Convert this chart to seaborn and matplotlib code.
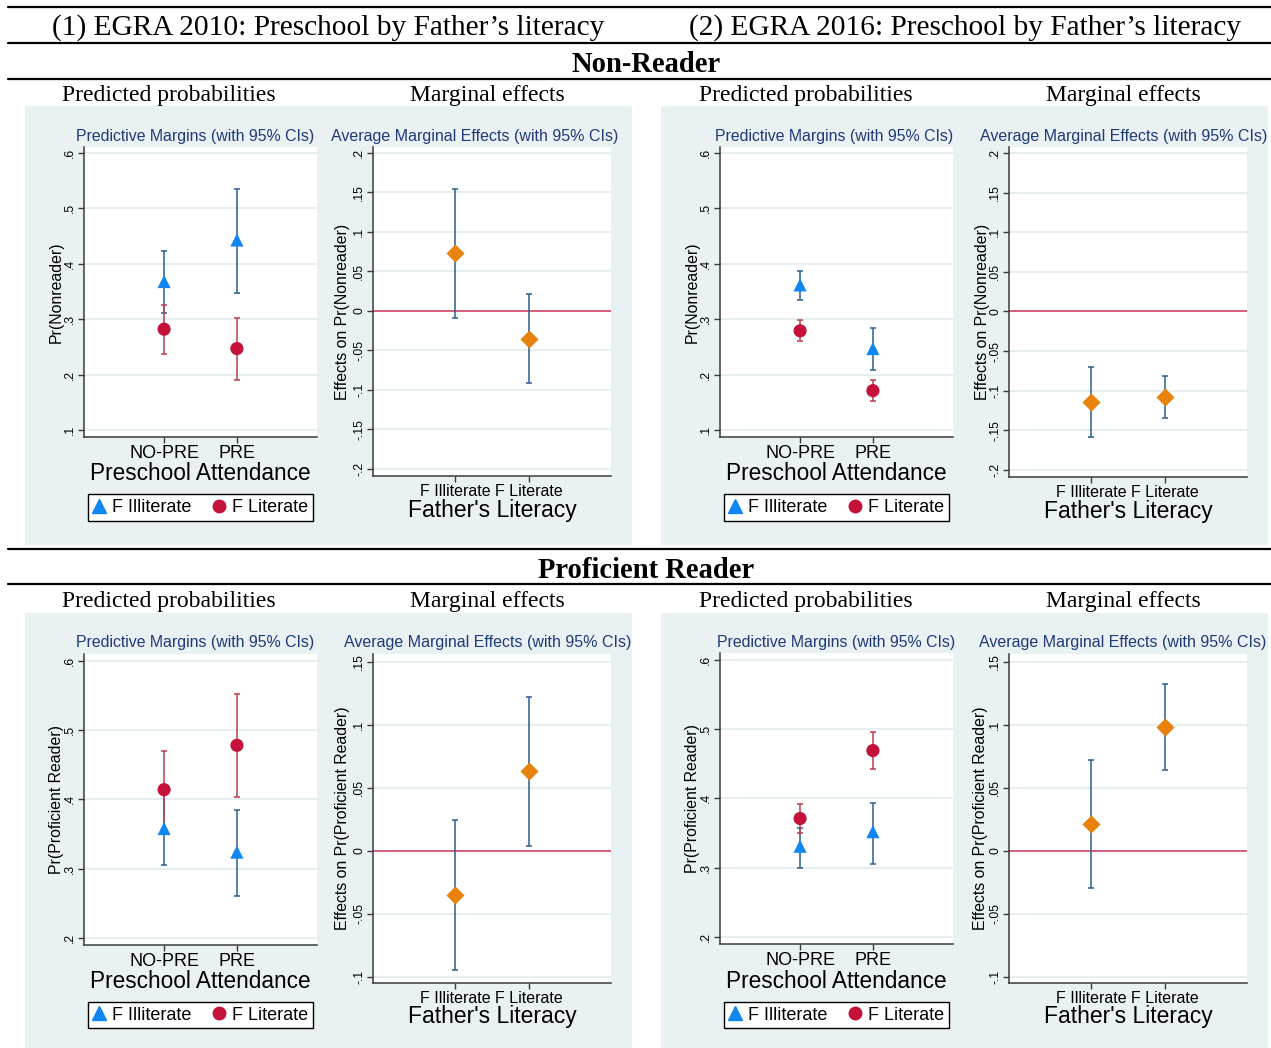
import matplotlib
matplotlib.use("Agg")
import matplotlib.pyplot as plt
from matplotlib.lines import Line2D
from matplotlib.patches import Rectangle
import numpy as np
import pandas as pd
import seaborn as sns

sns.set_theme(style="white")
plt.rcParams["font.family"] = ["Liberation Sans", "DejaVu Sans"]
plt.rcParams.update({"text.color": "black", "axes.labelcolor": "black",
                     "xtick.color": "#3a3a3a", "ytick.color": "#3a3a3a",
                     "xtick.labelcolor": "black", "ytick.labelcolor": "black"})

# ---- data ----
preschool = ["NO-PRE", "PRE"]
literacy = ["F Illiterate", "F Literate"]

# Non-reader, EGRA 2010
nr10_illit = [0.368, 0.443]
nr10_illit_lo = [0.311, 0.347]
nr10_illit_hi = [0.424, 0.535]
nr10_lit = [0.282, 0.247]
nr10_lit_lo = [0.237, 0.191]
nr10_lit_hi = [0.326, 0.302]
nr10_ame = [0.073, -0.035]
nr10_ame_lo = [-0.009, -0.091]
nr10_ame_hi = [0.155, 0.021]

# Non-reader, EGRA 2016
nr16_illit = [0.362, 0.247]
nr16_illit_lo = [0.334, 0.209]
nr16_illit_hi = [0.387, 0.284]
nr16_lit = [0.279, 0.171]
nr16_lit_lo = [0.261, 0.152]
nr16_lit_hi = [0.299, 0.190]
nr16_ame = [-0.114, -0.108]
nr16_ame_lo = [-0.159, -0.135]
nr16_ame_hi = [-0.070, -0.082]

# Proficient reader, EGRA 2010
pr10_illit = [0.358, 0.324]
pr10_illit_lo = [0.306, 0.261]
pr10_illit_hi = [0.410, 0.384]
pr10_lit = [0.414, 0.478]
pr10_lit_lo = [0.358, 0.403]
pr10_lit_hi = [0.470, 0.552]
pr10_ame = [-0.035, 0.063]
pr10_ame_lo = [-0.095, 0.004]
pr10_ame_hi = [0.024, 0.122]

# Proficient reader, EGRA 2016
pr16_illit = [0.331, 0.352]
pr16_illit_lo = [0.300, 0.306]
pr16_illit_hi = [0.358, 0.394]
pr16_lit = [0.371, 0.469]
pr16_lit_lo = [0.350, 0.442]
pr16_lit_hi = [0.392, 0.496]
pr16_ame = [0.021, 0.098]
pr16_ame_lo = [-0.030, 0.064]
pr16_ame_hi = [0.072, 0.132]

nr_pm_ticks = [0.1, 0.2, 0.3, 0.4, 0.5, 0.6]
nr_ame_ticks = [-0.2, -0.15, -0.1, -0.05, 0, 0.05, 0.1, 0.15, 0.2]
pr_pm_ticks = [0.2, 0.3, 0.4, 0.5, 0.6]
pr_ame_ticks = [-0.1, -0.05, 0, 0.05, 0.1, 0.15]

# ---- style ----
BLUE = "#0F86F2"
RED = "#C4123A"
ORANGE = "#E8820C"
BLUE_CI = "#2D5E8E"
RED_CI = "#B8404F"
NAVY = "#1F3A78"
PANEL_BG = "#EAF1F3"
GRID = "#E6EEF1"
ZERO = "#D8355A"

W, H = 1271, 1048
fig = plt.figure(figsize=(W / 100, H / 100), dpi=100)
fig.patch.set_facecolor("white")


def fx(x):
    return x / W


def fy(y):
    return 1 - y / H


def box(x0, y0, x1, y1):
    fig.add_artist(Rectangle((fx(x0), fy(y1)), (x1 - x0) / W, (y1 - y0) / H,
                             transform=fig.transFigure, facecolor=PANEL_BG,
                             edgecolor="none", zorder=0))


def hline(y):
    fig.add_artist(Line2D([fx(8), fx(1271)], [fy(y), fy(y)], transform=fig.transFigure,
                          color="black", lw=1.6))


def stata_fmt(v):
    s = f"{v:g}"
    return s.replace("0.", ".")


def base_axes(x0, y0, x1, y1, ticks, ylim, ylabel, ylab_x):
    ax = fig.add_axes([fx(x0), fy(y1), (x1 - x0) / W, (y1 - y0) / H])
    ax.set_facecolor("white")
    ax.set_zorder(2)
    for s in ["top", "right"]:
        ax.spines[s].set_visible(False)
    for s in ["left", "bottom"]:
        ax.spines[s].set_color("#3a3a3a")
        ax.spines[s].set_linewidth(1.1)
    ax.set_ylim(*ylim)
    ax.set_yticks(ticks)
    ax.set_yticklabels([stata_fmt(t) for t in ticks], rotation=90, va="center")
    ax.tick_params(axis="y", left=True, length=4, width=1, pad=1.5, labelsize=8.8)
    ax.tick_params(axis="x", bottom=True, length=4, width=1, pad=2)
    ax.grid(axis="y", color=GRID, lw=1.4)
    ax.set_axisbelow(True)
    ax.set_xlim(-1.1, 2.1)
    ax.set_ylabel(ylabel, fontsize=11.4)
    ax.yaxis.label.set_va("center")
    ax.yaxis.set_label_coords((ylab_x - x0) / (x1 - x0), 0.5)
    return ax


def margins_panel(rect, illit, ilo, ihi, lit, llo, lhi, ylabel, ticks, ylim, ylab_x,
                  title_x, title_y, xlab_y, leg_y):
    x0, y0, x1, y1 = rect
    ax = base_axes(x0, y0, x1, y1, ticks, ylim, ylabel, ylab_x)
    pos = np.arange(len(preschool))
    df = pd.DataFrame({
        "pos": np.tile(pos, 2),
        "group": np.repeat(literacy, len(pos)),
        "value": np.concatenate([illit, lit]),
        "lo": np.concatenate([ilo, llo]),
        "hi": np.concatenate([ihi, lhi]),
    })
    for g, c in zip(literacy, [BLUE_CI, RED_CI]):
        d = df[df["group"] == g]
        ax.errorbar(d["pos"], d["value"], yerr=[d["value"] - d["lo"], d["hi"] - d["value"]],
                    fmt="none", ecolor=c, elinewidth=1.1, capsize=2.5, capthick=1.1, zorder=3)
    sns.scatterplot(data=df, x="pos", y="value", hue="group", style="group",
                    palette={literacy[0]: BLUE, literacy[1]: RED},
                    markers={literacy[0]: "^", literacy[1]: "o"},
                    s=90, linewidth=0, legend=False, ax=ax, zorder=4)
    ax.set_xticks(pos)
    ax.set_xticklabels(preschool, fontsize=13)
    ax.set_xlabel("Preschool Attendance", fontsize=16.3)
    ax.xaxis.label.set_va("center")
    ax.xaxis.set_label_coords(0.5, (y1 - xlab_y) / (y1 - y0))
    handles = [Line2D([], [], marker="^", color=BLUE, ls="none", markersize=9.5),
               Line2D([], [], marker="o", color=RED, ls="none", markersize=9)]
    leg = ax.legend(handles, literacy, ncol=2, loc="center",
                    bbox_to_anchor=(0.5, (y1 - leg_y) / (y1 - y0)), fontsize=13,
                    frameon=True, fancybox=False, edgecolor="black", framealpha=1,
                    handlelength=0.7, handletextpad=0.35, columnspacing=1.2,
                    borderpad=0.25, borderaxespad=0)
    leg.get_frame().set_linewidth(1.0)
    fig.text(fx(title_x), fy(title_y), "Predictive Margins (with 95% CIs)",
             color=NAVY, fontsize=11.4, ha="center", va="center")
    return ax


def ame_panel(rect, est, lo, hi, ylabel, ticks, ylim, ylab_x, title_x, title_y, xlab_y):
    x0, y0, x1, y1 = rect
    ax = base_axes(x0, y0, x1, y1, ticks, ylim, ylabel, ylab_x)
    pos = np.arange(len(literacy))
    df = pd.DataFrame({"pos": pos, "value": est, "lo": lo, "hi": hi})
    ax.axhline(0, color=ZERO, lw=1.1, zorder=2)
    ax.errorbar(df["pos"], df["value"], yerr=[df["value"] - df["lo"], df["hi"] - df["value"]],
                fmt="none", ecolor=BLUE_CI, elinewidth=1.1, capsize=2.5, capthick=1.1, zorder=3)
    sns.scatterplot(data=df, x="pos", y="value", marker="D", color=ORANGE,
                    s=85, linewidth=0, ax=ax, zorder=4)
    ax.set_xticks(pos)
    ax.set_xticklabels(literacy, fontsize=11.5)
    ax.set_xlabel("Father's Literacy", fontsize=16.5)
    ax.xaxis.label.set_va("center")
    ax.xaxis.set_label_coords(0.5, (y1 - xlab_y) / (y1 - y0))
    fig.text(fx(title_x), fy(title_y), "Average Marginal Effects (with 95% CIs)",
             color=NAVY, fontsize=11.5, ha="center", va="center")
    return ax


# ---- background panels and headings ----
box(25, 106, 632, 545)
box(661, 106, 1268, 545)
box(25, 613, 632, 1048)
box(661, 613, 1268, 1048)

for y in [7, 43, 79, 549, 584]:
    hline(y)

serif = ["Liberation Serif", "DejaVu Serif"]
fig.text(fx(328), fy(28), "(1) EGRA 2010: Preschool by Father\u2019s literacy",
         family=serif, fontsize=21.2, ha="center", va="center")
fig.text(fx(965), fy(28), "(2) EGRA 2016: Preschool by Father\u2019s literacy",
         family=serif, fontsize=21.2, ha="center", va="center")
fig.text(fx(646), fy(64), "Non-Reader", family=serif, fontsize=20.6,
         fontweight="bold", ha="center", va="center")
fig.text(fx(646), fy(570), "Proficient Reader", family=serif, fontsize=20.6,
         fontweight="bold", ha="center", va="center")
for yy in [95, 602]:
    for xx, t in [(169, "Predicted probabilities"), (487, "Marginal effects"),
                  (806, "Predicted probabilities"), (1123, "Marginal effects")]:
        fig.text(fx(xx), fy(yy), t, family=serif, fontsize=17, ha="center", va="center")

nr_pm_lim = (0.0874, 0.6108)
nr_ame_lim = (-0.2089, 0.2076)
pr_pm_lim = (0.19, 0.6097)
pr_ame_lim = (-0.105, 0.1561)

# ---- Non-reader row ----
margins_panel((84, 147, 317, 437), nr10_illit, nr10_illit_lo, nr10_illit_hi,
              nr10_lit, nr10_lit_lo, nr10_lit_hi, "Pr(Nonreader)", nr_pm_ticks, nr_pm_lim,
              56, 195, 136, 474, 507.5)
ame_panel((373, 147, 611, 476), nr10_ame, nr10_ame_lo, nr10_ame_hi,
          "Effects on Pr(Nonreader)", nr_ame_ticks, nr_ame_lim, 343, 475, 136, 511)
margins_panel((720, 147, 953, 437), nr16_illit, nr16_illit_lo, nr16_illit_hi,
              nr16_lit, nr16_lit_lo, nr16_lit_hi, "Pr(Nonreader)", nr_pm_ticks, nr_pm_lim,
              692, 834, 136, 474, 507.5)
ame_panel((1009, 147, 1247, 477), nr16_ame, nr16_ame_lo, nr16_ame_hi,
          "Effects on Pr(Nonreader)", nr_ame_ticks, nr_ame_lim, 982, 1124, 136, 511)

# ---- Proficient reader row ----
margins_panel((84, 654, 317, 945), pr10_illit, pr10_illit_lo, pr10_illit_hi,
              pr10_lit, pr10_lit_lo, pr10_lit_hi, "Pr(Proficient Reader)", pr_pm_ticks,
              pr_pm_lim, 57, 195, 643, 982, 1015)
ame_panel((373, 654, 611, 983), pr10_ame, pr10_ame_lo, pr10_ame_hi,
          "Effects on Pr(Proficient Reader)", pr_ame_ticks, pr_ame_lim, 343, 488, 643, 1017)
margins_panel((720, 653, 953, 944), pr16_illit, pr16_illit_lo, pr16_illit_hi,
              pr16_lit, pr16_lit_lo, pr16_lit_hi, "Pr(Proficient Reader)", pr_pm_ticks,
              pr_pm_lim, 692, 836, 643, 981, 1015)
ame_panel((1009, 654, 1247, 983), pr16_ame, pr16_ame_lo, pr16_ame_hi,
          "Effects on Pr(Proficient Reader)", pr_ame_ticks, pr_ame_lim, 980, 1123, 643, 1017)

fig.savefig("out.png", dpi=100)
